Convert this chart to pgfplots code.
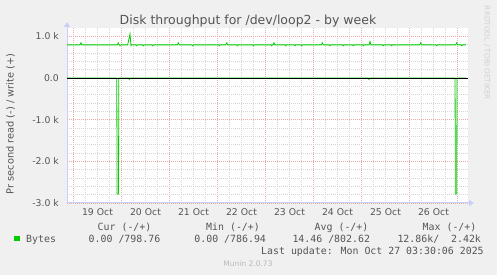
\documentclass[border=0pt]{standalone}
\usepackage{fontspec}
\setmainfont{DejaVu Sans}
\newfontfamily\monofont{DejaVu Sans Mono}
\usepackage{pgfplots}
\pgfplotsset{compat=1.18}
\usetikzlibrary{arrows.meta}
\definecolor{bg}{HTML}{F0F0F0}
\definecolor{txt}{HTML}{555555}
\definecolor{mgrid}{HTML}{EBA8A8}
\definecolor{ngrid}{HTML}{D4D4D4}
\definecolor{axcol}{HTML}{C8D0F8}
\definecolor{mgreen}{HTML}{00CC00}
\begin{document}
\begin{tikzpicture}[x=1pt,y=1pt]
\fill[bg] (0,0) rectangle (497,275);
\begin{axis}[
  at={(67pt,72pt)}, anchor=south west,
  scale only axis, width=401pt, height=175pt,
  xmin=-0.135, xmax=8.219, ymin=-3000, ymax=1200,
  axis background/.style={fill=white},
  axis lines=left,
  axis line style={draw=axcol, line width=1pt, -{Triangle[width=6pt,length=5pt]}, shorten >=-6pt},
  grid=both,
  major grid style={draw=mgrid, line width=0.7pt, dash pattern=on 1pt off 1pt},
  minor grid style={draw=ngrid, line width=0.7pt, dash pattern=on 1pt off 1pt},
  major tick length=0pt, minor tick length=0pt,
  xtick={0,1,2,3,4,5,6,7,8}, xticklabels={,,,,,,,,},
  minor x tick num=3,
  extra x ticks={0.5,1.5,2.5,3.5,4.5,5.5,6.5,7.5},
  extra x tick labels={19 Oct,20 Oct,21 Oct,22 Oct,23 Oct,24 Oct,25 Oct,26 Oct},
  extra x tick style={grid=none},
  ytick={-3000,-2000,-1000,0,1000},
  yticklabels={-3.0 k,-2.0 k,-1.0 k,0.0,1.0 k},
  minor y tick num=4,
  tick label style={font=\fontsize{9.3}{11}\selectfont, text=txt},
  yticklabel style={anchor=east, inner sep=0pt, xshift=-8pt},
  xticklabel style={anchor=base, inner sep=0pt, yshift=-12.5pt},
]
% read (negative)
\addplot[mgreen, line width=0.8pt] coordinates {
(-0.135,0) (0.902,0) (0.908,-2784) (0.938,-2784) (0.944,0)
(1.150,0) (1.163,-35) (1.176,0)
(6.143,0) (6.156,-35) (6.169,0)
(7.949,0) (7.955,-2784) (7.984,-2784) (7.990,0) (8.177,0)
};
% write (positive)
\addplot[mgreen, line width=0.8pt] coordinates {
(-0.135,795)
(0.136,795) (0.156,845) (0.176,795)
(0.913,795) (0.933,845) (0.953,795) (0.969,775) (0.985,795)
(1.129,795) (1.177,1056) (1.198,778) (1.212,795)
(1.302,795) (1.317,773) (1.332,795)
(1.439,795) (1.454,773) (1.469,795)
(1.635,795) (1.650,773) (1.665,795)
(2.163,795) (2.183,845) (2.203,795)
(2.468,795) (2.483,773) (2.498,795)
(3.023,795) (3.038,773) (3.053,795)
(3.172,795) (3.192,845) (3.212,795)
(3.398,795) (3.413,773) (3.428,795)
(3.731,795) (3.746,773) (3.761,795)
(4.114,795) (4.129,773) (4.144,795)
(4.157,795) (4.177,845) (4.197,795)
(4.406,795) (4.421,773) (4.436,795)
(4.600,795) (4.615,773) (4.630,795)
(4.739,795) (4.754,773) (4.769,795)
(5.163,795) (5.183,845) (5.203,795)
(5.329,795) (5.344,773) (5.359,795)
(5.606,795) (5.621,773) (5.636,795)
(5.814,795) (5.829,773) (5.844,795)
(6.023,795) (6.038,773) (6.053,795)
(6.157,795) (6.177,875) (6.197,795)
(6.439,795) (6.454,773) (6.469,795)
(6.614,795) (6.629,773) (6.644,795)
(7.213,795) (7.233,845) (7.253,795)
(7.552,795) (7.567,773) (7.582,795)
(7.963,795) (7.983,845) (8.003,795)
(8.073,795) (8.088,773) (8.103,795)
(8.177,795)
};
\addplot[black, line width=0.9pt] coordinates {(-0.135,0) (8.219,0)};
\end{axis}
% title
\node[anchor=base, inner sep=0pt, font=\fontsize{12.5}{14}\selectfont, text=txt] at (248,250.7) {Disk throughput for /dev/loop2 - by week};
% y label
\node[rotate=90, anchor=base, inner sep=0pt, font=\fontsize{9.8}{12}\selectfont, text=txt] at (13.5,151) {Pr second read (-) / write (+)};
% rrdtool
\node[rotate=-90, anchor=center, inner sep=0pt, font=\fontsize{7.3}{9}\selectfont, text=black!18] at (487,222) {RRDTOOL / TOBI OETIKER};
% legend
\fill[mgreen] (14,33.7) rectangle (20,39);
\begin{scope}[every node/.style={anchor=base west, inner sep=0pt, font=\monofont\fontsize{9.9}{12}\selectfont, text=txt}]
\node at (97.5,44.3) {Cur (-/+)};
\node at (206,44.3) {Min (-/+)};
\node at (314.5,44.3) {Avg (-/+)};
\node at (422.5,44.3) {Max (-/+)};
\node at (26,32.8) {Bytes};
\node at (88.5,32.8) {0.00 /798.76};
\node at (194.2,32.8) {0.00 /786.94};
\node at (292.3,32.8) {14.46 /802.62};
\node at (397.3,32.8) {12.86k/\ \ 2.42k};
\node at (261,20.7) {Last update: Mon Oct 27 03:30:06 2025};
\end{scope}
\node[anchor=center, inner sep=0pt, font=\fontsize{7.5}{9}\selectfont, text=black!28] at (248,11) {Munin 2.0.73};
\pgfresetboundingbox
\useasboundingbox (0,0) rectangle (497,275);
\end{tikzpicture}
\end{document}
